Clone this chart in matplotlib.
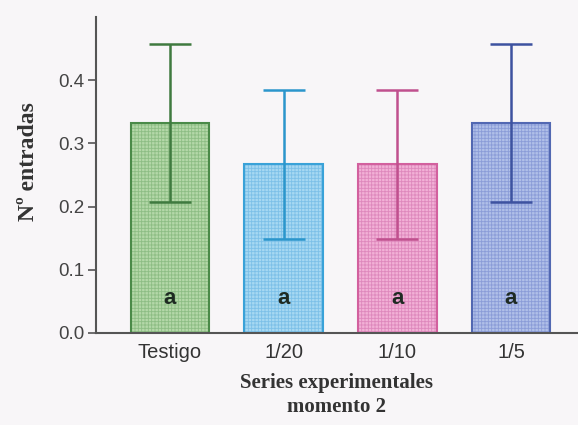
import numpy as np
import matplotlib
matplotlib.use("Agg")
import matplotlib.pyplot as plt

categories = ["Testigo", "1/20", "1/10", "1/5"]
means = [0.333, 0.267, 0.267, 0.333]
errors = [0.125, 0.118, 0.118, 0.125]
letters = ["a", "a", "a", "a"]

fills = ["#b4d8a8", "#a6d8f2", "#f2b0d6", "#b0bfe8"]
hatches = ["#8dbd84", "#7cc0e8", "#de88bc", "#8a9cd8"]
edges = ["#4a8a48", "#3aa2d8", "#d2609e", "#5268b2"]
errcols = ["#3f7a3f", "#2b96cc", "#c0508e", "#3d52a0"]

plt.rcParams["hatch.linewidth"] = 0.6

fig = plt.figure(figsize=(5.78, 4.25), dpi=100)
fig.patch.set_facecolor("#f8f6f8")
ax = fig.add_axes([0.166, 0.2165, 0.834, 0.7435])
ax.set_facecolor("#f8f6f8")

x = np.arange(len(categories))
w = 0.69
ax.bar(x, means, w, color=fills, edgecolor=hatches, hatch="+++++", linewidth=0)
ax.bar(x, means, w, color="none", edgecolor=edges, linewidth=1.5)
for i in range(len(x)):
    ax.errorbar(x[i], means[i], yerr=errors[i], color=errcols[i], elinewidth=1.8,
                capsize=15, capthick=1.8, fmt="none")
    ax.text(x[i], 0.055, letters[i], ha="center", va="center", fontsize=16,
            fontweight="bold", color="#1e2a22", family="Liberation Sans")

ax.set_xlim(-0.652, 3.59)
ax.set_ylim(0, 0.5)
ax.set_yticks([0.0, 0.1, 0.2, 0.3, 0.4])
ax.set_yticklabels(["0.0", "0.1", "0.2", "0.3", "0.4"])
ax.set_xticks(x)
ax.set_xticklabels(categories)
for s in ["top", "right"]:
    ax.spines[s].set_visible(False)
for s in ["left", "bottom"]:
    ax.spines[s].set_color("#555555")
    ax.spines[s].set_linewidth(1.5)
ax.tick_params(axis="y", length=6, width=1.2, color="#555555", labelsize=13.5,
               labelcolor="#444444", pad=2)
ax.tick_params(axis="x", length=0, labelsize=14.5, labelcolor="#333333", pad=7)
for lab in ax.get_xticklabels() + ax.get_yticklabels():
    lab.set_family("Liberation Sans")

ax.set_xlabel("Series experimentales\nmomento 2", family="Liberation Serif",
              fontweight="bold", fontsize=15, color="#333333", labelpad=8,
              linespacing=1.3)
ax.set_ylabel("N\u00ba entradas", family="Liberation Serif", fontweight="bold",
              fontsize=17, color="#333333")
ax.yaxis.set_label_coords(-0.118, 0.544)

fig.savefig("out.png", dpi=100, facecolor=fig.get_facecolor())
